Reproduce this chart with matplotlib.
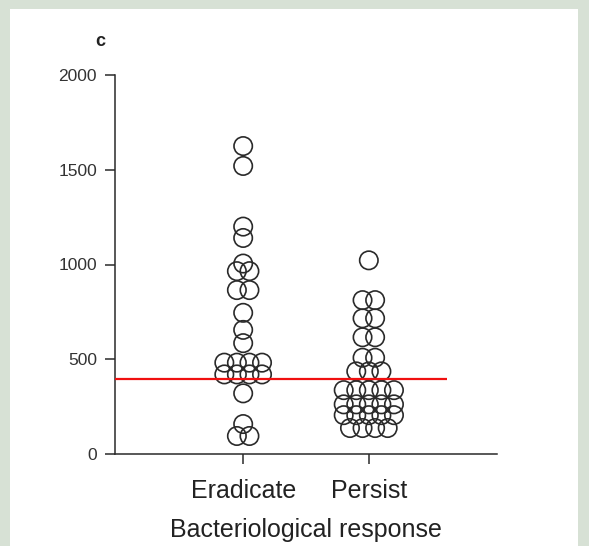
#!/usr/bin/env python3
"""Column scatter of values by bacteriological response, with cutoff line."""
import matplotlib

matplotlib.use("Agg")
import matplotlib.pyplot as plt
import numpy as np
from matplotlib.patches import Rectangle

plt.rcParams["font.family"] = ["Liberation Sans", "DejaVu Sans"]

CATEGORIES = ["Eradicate", "Persist"]
ERADICATE = [1625, 1520, 1200, 1140, 1005, 965, 965, 865, 865, 745, 655, 585,
             482, 482, 482, 482, 420, 420, 420, 420, 320, 158, 95, 95]
PERSIST = [1022, 812, 812, 716, 716, 616, 616, 508, 508, 436, 436, 436,
           337, 337, 337, 337, 337, 262, 262, 262, 262, 262,
           205, 205, 205, 205, 205, 137, 137, 137, 137]
CUTOFF = 395
Y_TICKS = [0, 500, 1000, 1500, 2000]
X_LABEL = "Bacteriological response"
PANEL_LETTER = "c"

SPACING = 0.1
INK = "#2a2a2a"


def row_offsets(values: list[float]) -> np.ndarray:
    """Prism-style rows: equal values are spread evenly around the column centre."""
    values = np.asarray(values, dtype=float)
    offsets = np.zeros_like(values)
    for level in np.unique(values):
        idx = np.flatnonzero(values == level)
        n = len(idx)
        offsets[idx] = (np.arange(n) - (n - 1) / 2.0) * SPACING
    return offsets


def main() -> None:
    fig = plt.figure(figsize=(5.89, 5.46), dpi=100, facecolor="#d7e1d5")
    fig.patches.append(
        Rectangle((10 / 589, 0), 568 / 589, 537 / 546, transform=fig.transFigure,
                  facecolor="white", edgecolor="none", zorder=-10)
    )
    ax = fig.add_axes([115 / 589, 92 / 546, 382 / 589, 379 / 546])
    ax.set_facecolor("none")

    for pos, values in enumerate([ERADICATE, PERSIST]):
        xs = pos + row_offsets(values)
        ax.scatter(xs, values, s=175, facecolors="none", edgecolors=INK,
                   linewidths=1.2, clip_on=False, zorder=3)

    ax.plot([-1.02, 1.62], [CUTOFF, CUTOFF], color="#f01010", lw=1.6,
            solid_capstyle="butt", zorder=4)

    ax.set_xlim(-1.02, 2.02)
    ax.set_ylim(0, 2000)
    ax.set_xticks(range(len(CATEGORIES)), labels=CATEGORIES)
    ax.set_yticks(Y_TICKS)
    for side in ("top", "right"):
        ax.spines[side].set_visible(False)
    for side in ("left", "bottom"):
        ax.spines[side].set_color(INK)
        ax.spines[side].set_linewidth(1.1)
    ax.tick_params(axis="y", length=7, width=1.1, color=INK, pad=6,
                   labelsize=12.5, labelcolor="#333333")
    ax.tick_params(axis="x", length=7, width=1.1, color=INK, pad=11,
                   labelsize=18, labelcolor="#222222")
    ax.set_xlabel(X_LABEL, fontsize=18, color="#222222", labelpad=11)

    fig.text(100 / 589, 1 - 41 / 546, PANEL_LETTER, fontsize=13, fontweight="bold",
             color="#222222", ha="center", va="center")

    fig.savefig("out.png", dpi=100, facecolor=fig.get_facecolor())
    plt.close(fig)


if __name__ == "__main__":
    main()
